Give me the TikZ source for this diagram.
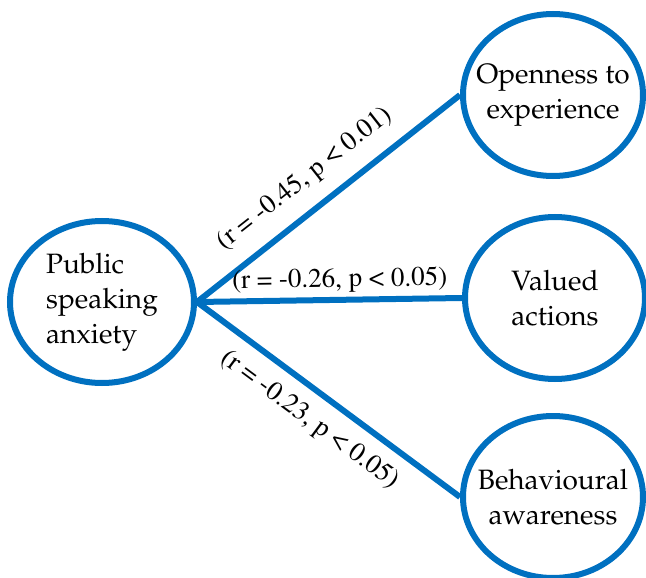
\documentclass[tikz,border=0pt]{standalone}
\usepackage[T1]{fontenc}
\usepackage{mathpazo}
\usetikzlibrary{shapes.geometric}
\definecolor{linkblue}{RGB}{0,112,192}

\begin{document}
\begin{tikzpicture}[x=1pt,y=-1pt,
        var/.style={ellipse, draw=linkblue, line width=6pt, fill=white, inner sep=0pt,
            inner xsep=-14pt, align=center, minimum width=180pt, minimum height=162pt,
            font=\fontsize{28}{35}\selectfont},
        link/.style={draw=linkblue, line width=6pt},
        stat/.style={font=\fontfamily{ptm}\fontsize{27}{30}\selectfont, sloped, inner sep=2pt}]
    \useasboundingbox (0,0) rectangle (646,578);

    % Predictor
    \node[var, minimum width=184pt, align=left] (psa) at (102,302) {Public\\speaking\\anxiety};

    % Outcomes
    \node[var] (ope) at (553,95) {Openness to\\experience};
    \node[var] (val) at (555,298) {Valued\\actions};
    \node[var] (beh) at (553,497) {Behavioural\\awareness};

    % Correlations
    \draw[link] (psa.east) -- node[stat, pos=0.48, above=13pt] {(r = -0.45, p < 0.01)} (ope.west);
    \draw[link] (psa.east) -- node[stat, pos=0.54, above=2pt] {(r = -0.26, p < 0.05)} (val.west);
    \draw[link] (psa.east) -- node[stat, pos=0.49, below=11pt] {(r = -0.23, p < 0.05)} (beh.west);
\end{tikzpicture}
\end{document}
